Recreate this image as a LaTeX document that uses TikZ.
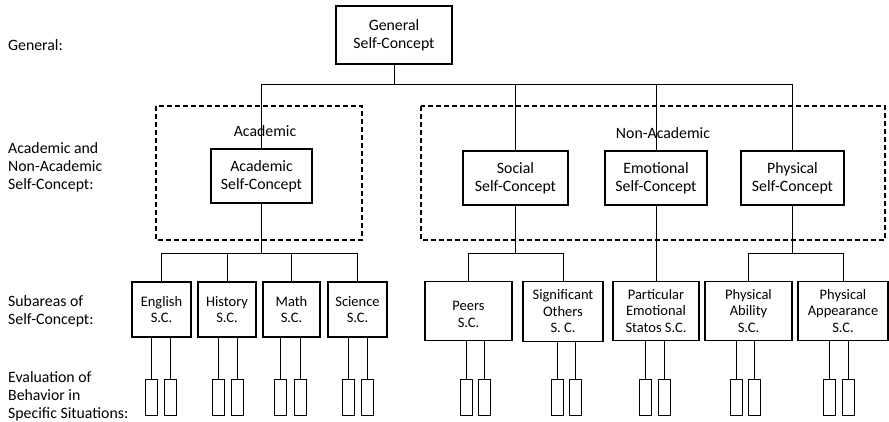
\documentclass[tikz,border=0pt]{standalone}
\usepackage{fontspec}
\setmainfont{Carlito}
\begin{document}
\begin{tikzpicture}[x=1pt,y=-1pt,
  every node/.style={inner sep=0pt,font=\fontsize{15.8}{18}\selectfont},
  mainbox/.style={draw,line width=1.2pt,minimum width=103pt,minimum height=54pt,align=center},
  subbox/.style={draw,line width=1.2pt,minimum height=55pt,align=center,font=\fontsize{14.5}{16.5}\selectfont},
  evalbox/.style={draw,line width=1pt,minimum width=12pt,minimum height=36pt},
  side/.style={anchor=west,align=left},
  frame/.style={line width=1.2pt,dash pattern=on 5pt off 3pt},
  link/.style={line width=0.8pt}]
\useasboundingbox (0,0) rectangle (889,422);
\node[side] (lgen) at (8,45) {General:};
\node[side] (lacad) at (8,167) {Academic and\\Non-Academic\\Self-Concept:};
\node[side] (lsub) at (8,311) {Subareas of\\Self-Concept:};
\node[side] (leval) at (8,396) {Evaluation of\\Behavior in\\Specific Situations:};
\draw[frame] (156,106) rectangle (362,240);
\draw[frame] (421,106) rectangle (885,240);
\node (tacad) at (265,131) {Academic};
\node (tnon) at (663,133) {Non-Academic};
\node[mainbox,minimum width=116pt,minimum height=58pt] (gen) at (394,35) {General\\Self-Concept};
\node[mainbox,minimum width=101pt] (acad) at (261.5,176) {Academic\\Self-Concept};
\node[mainbox,minimum width=105pt] (soc) at (515.5,178) {Social\\Self-Concept};
\node[mainbox,minimum width=102pt] (emo) at (656,178) {Emotional\\Self-Concept};
\node[mainbox] (phys) at (792.5,178) {Physical\\Self-Concept};
\node[subbox,minimum width=59pt] (eng) at (161.5,309.5) {English\\S.C.};
\node[subbox,minimum width=58pt] (hist) at (227,309.5) {History\\S.C.};
\node[subbox,minimum width=57pt] (math) at (291.5,309.5) {Math\\S.C.};
\node[subbox,minimum width=59pt] (sci) at (357.5,309.5) {Science\\S.C.};
\node[subbox,minimum width=87pt,minimum height=59pt] (peers) at (468.5,311) {\mbox{}\\Peers\\S.C.};
\node[subbox,minimum width=80pt,minimum height=60pt] (sig) at (563,311.5) {Significant\\Others\\S. C.};
\node[subbox,minimum width=86pt,minimum height=59pt] (part) at (656,311) {Particular\\Emotional\\Statos S.C.};
\node[subbox,minimum width=87pt,minimum height=59pt] (abil) at (748.5,311) {Physical\\Ability\\S.C.};
\node[subbox,minimum width=90pt,minimum height=59pt] (appr) at (843,311) {Physical\\Appearance\\S.C.};
\coordinate (bus1) at (0,84);
\coordinate (bus2) at (0,253);
\draw[link] (gen.south) -- (gen.south |- bus1);
\draw[link] (acad.north) |- (phys.north |- bus1) -- (phys.north);
\draw[link] (soc.north) -- (soc.north |- bus1);
\draw[link] (emo.north) -- (emo.north |- bus1);
\draw[link] (acad.south) -- (acad.south |- bus2);
\draw[link] (eng.north) |- (sci.north |- bus2) -- (sci.north);
\draw[link] (hist.north) -- (hist.north |- bus2);
\draw[link] (math.north) -- (math.north |- bus2);
\draw[link] (soc.south) -- (soc.south |- bus2);
\draw[link] (peers.north) |- (sig.north |- bus2) -- (sig.north);
\draw[link] (emo.south) -- (part.north);
\draw[link] (phys.south) -- (phys.south |- bus2);
\draw[link] (abil.north) |- (appr.north |- bus2) -- (appr.north);
\foreach \p/\a/\b in {eng/151/170, hist/218/237, math/280/300, sci/348/367,
    peers/466/484, sig/557/575, part/645/664, abil/736/754, appr/829/848} {
  \node[evalbox] (\p-a) at (\a,397) {};
  \node[evalbox] (\p-b) at (\b,397) {};
  \draw[link] (\p-a.north) -- (\p-a.north |- \p.south);
  \draw[link] (\p-b.north) -- (\p-b.north |- \p.south);
}
\end{tikzpicture}
\end{document}
